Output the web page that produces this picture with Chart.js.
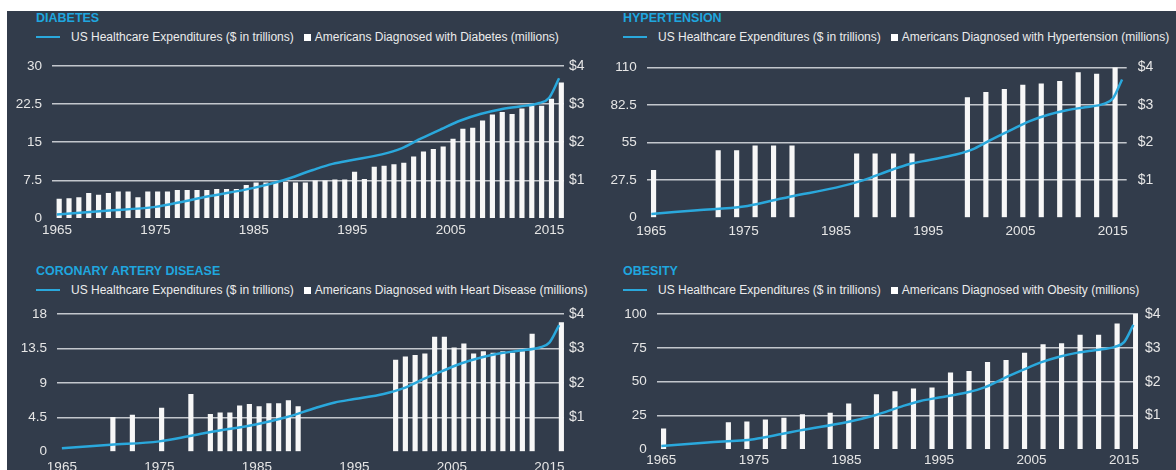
<!DOCTYPE html>
<html>
<head>
<meta charset="utf-8">
<script src="https://cdn.jsdelivr.net/npm/chart.js@4.4.1/dist/chart.umd.min.js"></script>
<style>
    html, body { margin: 0; padding: 0; width: 1176px; height: 470px; overflow: hidden; background: #fff; }
    #bg { position: absolute; left: 7px; top: 11px; width: 1169px; height: 459px; background: #323c4b; }
    .title { position: absolute; font: bold 12.5px "Liberation Sans", Arial, sans-serif; color: #1fa6df; line-height: 14px; white-space: nowrap; }
    .legend { position: absolute; font: 12px "Liberation Sans", Arial, sans-serif; color: #ececec; line-height: 14px; white-space: nowrap; display: flex; align-items: center; }
    .legend .ln { width: 24px; height: 2.5px; background: #2aa8dc; margin-right: 11px; }
    .legend .sq { width: 7px; height: 7px; background: #fff; margin: 0 4px 0 10px; }
    .panel { position: absolute; }
</style>
</head>
<body>
<div id="bg"></div>
<script>
// every year on the category axis
const years = []
for (let y = 1965; y <= 2016; y++) years.push(y)

const xTickYears = [1965, 1975, 1985, 1995, 2005, 2015]

// US healthcare expenditures, $ in trillions (same line on all four charts)
const spendYears = [1965, 1970, 1975, 1978, 1980, 1985, 1988, 1991, 1993, 1995, 1998, 2000, 2002, 2004, 2006, 2008, 2010, 2012, 2014, 2015, 2016]
const spendValues = [0.10, 0.20, 0.30, 0.45, 0.56, 0.80, 1.00, 1.27, 1.43, 1.53, 1.68, 1.84, 2.10, 2.34, 2.57, 2.74, 2.86, 2.94, 3.03, 3.17, 3.68]

// diabetes, millions (every year)
const diabetesValues = [3.8, 3.9, 4.1, 4.9, 4.6, 4.9, 5.2, 5.2, 4.1, 5.2,
    5.2, 5.2, 5.5, 5.5, 5.5, 5.5, 5.7, 5.7, 5.7, 6.5,
    7.0, 7.0, 7.1, 7.1, 7.0, 7.0, 7.4, 7.4, 7.6, 7.6,
    9.1, 7.7, 10.1, 10.3, 10.6, 10.9, 12.1, 13.1, 13.6, 14.1,
    15.6, 17.6, 17.8, 19.2, 20.4, 20.9, 20.5, 21.6, 22.1, 22.1,
    23.5, 26.7]

// hypertension, millions
const hyperYears = [1965, 1972, 1974, 1976, 1978, 1980, 1987, 1989, 1991, 1993, 1999, 2001, 2003, 2005, 2007, 2009, 2011, 2013, 2015]
const hyperValues = [34.6, 49.1, 49.1, 52.6, 52.6, 52.6, 46.7, 46.7, 46.7, 46.7, 87.9, 91.8, 93.9, 97.0, 97.9, 99.8, 106.3, 105.1, 110]

// heart disease, millions
const heartYears = [1970, 1972, 1975, 1978, 1980, 1981, 1982, 1983, 1984, 1985, 1986, 1987, 1988, 1989,
    1999, 2000, 2001, 2002, 2003, 2004, 2005, 2006, 2007, 2008, 2009, 2010, 2011, 2012, 2013, 2016]
const heartValues = [4.5, 4.8, 5.7, 7.5, 4.9, 5.1, 5.1, 6.0, 6.2, 5.9, 6.3, 6.3, 6.7, 5.9,
    12.0, 12.4, 12.6, 12.8, 15.0, 15.0, 13.6, 14.1, 12.8, 13.1, 12.9, 13.1, 12.9, 13.1, 15.4, 16.9]

// obesity, millions
const obesityYears = [1965, 1972, 1974, 1976, 1978, 1980, 1983, 1985, 1988, 1990, 1992, 1994, 1996, 1998, 2000, 2002, 2004, 2006, 2008, 2010, 2012, 2014, 2016]
const obesityValues = [15.1, 19.7, 20.4, 21.8, 23.0, 25.6, 26.7, 33.7, 40.5, 42.6, 44.7, 45.4, 56.5, 57.7, 64.4, 65.8, 71.2, 77.5, 78.2, 84.4, 84.4, 92.8, 100]

const panels = [
    { title: 'DIABETES', barLabel: 'Americans Diagnosed with Diabetes (millions)',
      barYears: years, barValues: diabetesValues, max: 30, step: 7.5,
      box: [0, 48, 590, 202], leftW: 52, rightW: 26, padTop: 11.5, xH: 31.7, xPad: 4, rPad: 5,
      head: [36, 11] },
    { title: 'HYPERTENSION', barLabel: 'Americans Diagnosed with Hypertension (millions)',
      barYears: hyperYears, barValues: hyperValues, max: 110, step: 27.5,
      box: [590, 48, 586, 202], leftW: 56.7, rightW: 49.3, padTop: 12.7, xH: 32.3, xPad: 5, rPad: 11,
      head: [623, 11] },
    { title: 'CORONARY ARTERY DISEASE', barLabel: 'Americans Diagnosed with Heart Disease (millions)',
      barYears: heartYears, barValues: heartValues, max: 18, step: 4.5,
      box: [0, 296, 590, 174], leftW: 57, rightW: 26, padTop: 12.3, xH: 18.3, xPad: 7, rPad: 5,
      head: [36, 264] },
    { title: 'OBESITY', barLabel: 'Americans Diagnosed with Obesity (millions)',
      barYears: obesityYears, barValues: obesityValues, max: 100, step: 25,
      box: [590, 296, 586, 174], leftW: 66.7, rightW: 38, padTop: 10, xH: 20.7, xPad: 3, rPad: 7,
      head: [623, 264] }
]

Chart.defaults.font.family = '"Liberation Sans", Arial, sans-serif'

function addHeader(p) {
    const t = document.createElement('div')
    t.className = 'title'
    t.style.left = p.head[0] + 'px'
    t.style.top = p.head[1] + 'px'
    t.textContent = p.title
    document.body.appendChild(t)

    const lg = document.createElement('div')
    lg.className = 'legend'
    lg.style.left = p.head[0] + 'px'
    lg.style.top = (p.head[1] + 19) + 'px'
    lg.innerHTML = `<span class="ln"></span><span>US Healthcare Expenditures ($ in trillions)</span><span class="sq"></span><span>${p.barLabel}</span>`
    document.body.appendChild(lg)
}

function makeChart(p) {
    const wrap = document.createElement('div')
    wrap.className = 'panel'
    wrap.style.left = p.box[0] + 'px'
    wrap.style.top = p.box[1] + 'px'
    const canvas = document.createElement('canvas')
    canvas.width = p.box[2]
    canvas.height = p.box[3]
    wrap.appendChild(canvas)
    document.body.appendChild(wrap)

    const barData = years.map(y => {
        const i = p.barYears.indexOf(y)
        return i < 0 ? null : p.barValues[i]
    })

    new Chart(canvas, {
        type: 'bar',
        data: {
            labels: years,
            datasets: [{
                type: 'line',
                label: 'US Healthcare Expenditures ($ in trillions)',
                data: spendYears.map((x, i) => ({ x: x, y: spendValues[i] })),
                xAxisID: 'xl',
                yAxisID: 'y2',
                borderColor: '#2aa8dc',
                borderWidth: 2.5,
                pointRadius: 0,
                cubicInterpolationMode: 'monotone',
                order: 0
            }, {
                label: p.barLabel,
                data: barData,
                xAxisID: 'x',
                yAxisID: 'y',
                backgroundColor: '#f7f7f7',
                barThickness: 4.5,
                order: 1
            }]
        },
        options: {
            responsive: false,
            animation: false,
            layout: { padding: { top: p.padTop, left: 0, right: 0, bottom: 0 } },
            plugins: { legend: { display: false }, tooltip: { enabled: false } },
            scales: {
                x: {
                    type: 'category',
                    grid: { display: false, drawTicks: false },
                    border: { display: false },
                    ticks: {
                        autoSkip: false,
                        maxRotation: 0,
                        padding: p.xPad,
                        color: '#e6e6e6',
                        font: { size: 13.5 },
                        callback: (v, i) => xTickYears.includes(years[i]) ? String(years[i]) : ''
                    },
                    afterFit: s => { s.height = p.xH }
                },
                xl: {
                    type: 'linear',
                    min: 1964.5,
                    max: 2016.5,
                    offset: false,
                    grid: { offset: false },
                    display: false
                },
                y: {
                    position: 'left',
                    min: 0,
                    max: p.max,
                    border: { display: false },
                    grid: {
                        drawTicks: false,
                        lineWidth: 1.5,
                        color: c => c.tick && c.tick.value === 0 ? 'rgba(0,0,0,0)' : '#c3c7cd'
                    },
                    ticks: {
                        stepSize: p.step,
                        padding: 10,
                        color: '#e6e6e6',
                        font: { size: 13.5 },
                        callback: v => String(v)
                    },
                    afterFit: s => { s.width = p.leftW }
                },
                y2: {
                    position: 'right',
                    min: 0,
                    max: 4,
                    border: { display: false },
                    grid: { display: false, drawTicks: false },
                    ticks: {
                        stepSize: 1,
                        padding: p.rPad,
                        color: '#e6e6e6',
                        font: { size: 14 },
                        callback: v => v === 0 ? '' : '$' + v
                    },
                    afterFit: s => { s.width = p.rightW }
                }
            }
        }
    })
}

for (const p of panels) {
    addHeader(p)
    makeChart(p)
}
</script>
</body>
</html>
